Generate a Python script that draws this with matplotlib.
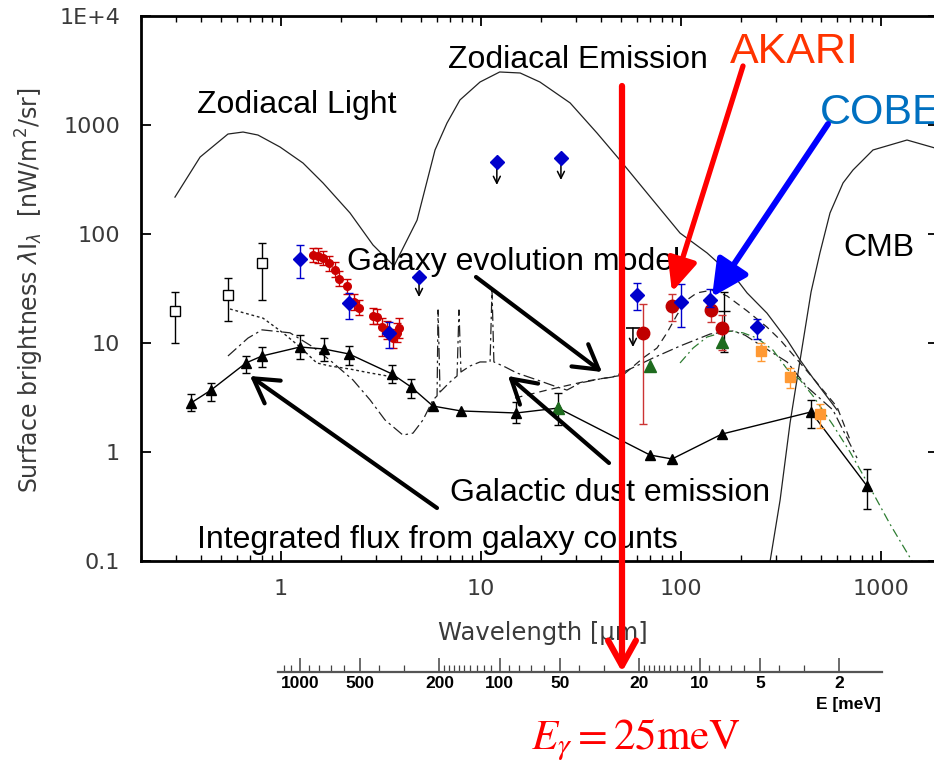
import numpy as np
import matplotlib
matplotlib.use('Agg')
import matplotlib.pyplot as plt
from matplotlib.patches import FancyArrowPatch, ArrowStyle
from matplotlib.ticker import FixedLocator, NullLocator, NullFormatter, FixedFormatter, LogLocator

plt.rcParams['font.family'] = ['Liberation Sans', 'DejaVu Sans']
nan = np.nan

# ---------------- data (wavelength [um], brightness [nW/m2/sr]) ----------------
zl_wl = [0.295, 0.394, 0.543, 0.646, 0.767, 0.989, 1.288, 1.622, 2.213, 2.884, 3.673]
zl_I = [218, 508, 826, 862, 809, 628, 448, 294, 156, 79.3, 50.9]

ze_wl = [3.673, 4.79, 5.89, 6.76, 7.85, 9.89, 12.4, 15.7, 19.7, 27.9, 38.0, 49.5, 67.6,
         98.9, 135, 191, 214, 269, 339, 394, 457, 603]
ze_I = [50.9, 134, 590, 1042, 1698, 2480, 3065, 3000, 2480, 1594, 845, 477, 238,
        102, 67.0, 37.8, 28.8, 18.8, 10.7, 6.98, 4.77, 2.43]

cmb_wl = [272, 279, 313, 351, 394, 447, 495, 556, 646, 724, 912, 1349, 1862]
cmb_I = [0.0744, 0.1, 0.363, 1.85, 6.98, 29.4, 67.0, 156, 294, 386, 590, 728, 615]

pah_wl = [0.543, 0.684, 0.804, 1.109, 1.445, 1.80, 2.29, 2.79, 3.31, 4.07, 4.57, 5.13, 5.75,
          6.03, 6.10, 6.24, 7.0, 7.59, 7.76, 7.94, 8.81, 9.89, 11.1, 11.35, 11.6, 13.2, 15.1,
          19.1, 24.0, 26.9, 31.3, 39.4, 45.7, 55.6, 72.4, 98.9, 140, 182, 209, 240, 288,
          339, 427, 575, 759]
pah_I = [7.60, 11.1, 13.2, 12.4, 9.19, 6.70, 4.58, 3.00, 1.97, 1.43, 1.49, 1.97, 3.00,
         3.27, 20.1, 3.55, 4.39, 4.98, 20.1, 5.42, 6.15, 6.70, 6.70, 30.6, 6.70, 6.03, 5.31,
         4.58, 3.95, 3.70, 4.30, 4.68, 4.88, 5.77, 7.28, 9.38, 12.1, 12.9, 11.8, 10.0, 8.09,
         6.70, 3.95, 2.43, 0.88]

mod2_wl = [14.8, 21.4, 33.9, 51.3, 64.6, 75.9, 85.1, 95.5, 107, 120, 143, 170, 214, 269,
           313, 394, 457, 603, 700]
mod2_I = [3.13, 3.70, 4.48, 5.08, 7.28, 9.0, 12.4, 18.1, 24.8, 28.8, 30.6, 27.0, 19.7, 14.0,
          10.7, 6.56, 4.77, 2.59, 1.29]

dot_wl = [0.556, 0.813, 1.023, 1.245, 1.51, 1.76, 2.21, 2.79, 3.63]
dot_I = [20.5, 16.9, 12.4, 9.19, 6.56, 6.15, 5.77, 5.31, 4.88]

grl_wl = [98.9, 115, 135, 172, 204, 240, 288, 339, 394, 457, 575, 700, 851, 1109, 1429, 1660]
grl_I = [6.56, 9.0, 11.35, 12.9, 12.4, 11.1, 8.63, 5.77, 4.58, 3.27, 1.77, 1.0, 0.531,
         0.218, 0.1, 0.060]

tri_wl = [0.355, 0.447, 0.668, 0.804, 1.245, 1.64, 2.19, 3.59, 4.47, 5.75, 7.94, 15.0, 24.3,
          70.0, 90.2, 160, 447, 851]
tri_I = [2.82, 3.70, 6.56, 7.60, 9.19, 8.81, 7.93, 5.20, 3.95, 2.64, 2.38, 2.28, 2.53,
         0.938, 0.863, 1.46, 2.33, 0.488]
tri_lo = [2.38, 2.94, 5.31, 6.03, 7.13, 6.84, 6.28, 4.30, 3.13, nan, nan, 1.85, 1.77,
          nan, nan, nan, 1.66, 0.30]
tri_hi = [3.40, 4.30, 7.60, 9.19, 11.8, 11.1, 9.38, 6.28, 4.68, nan, nan, 2.88, 3.48,
          nan, nan, nan, 3.0, 0.70]

sq_wl = [0.295, 0.543, 0.804]
sq_I = [19.7, 27.5, 54.1]
sq_lo = [10.0, 15.9, 24.8]
sq_hi = [29.4, 39.5, 82.6]

rn_wl = [1.45, 1.53, 1.62, 1.74, 1.86, 1.95, 2.14, 2.32, 2.45, 2.88, 3.02, 3.20, 3.39, 3.63, 3.80, 3.89]
rn_I = [64, 63, 60, 54, 47, 39, 33, 24, 21, 17.7, 17.3, 14.0, 13.2, 11.1, 12.4, 13.7]
rn_lo = [55, 54, 52, 46, 40, 33, 28, 20, 18, 15, 14.8, 11.5, 10.8, 9.0, 10.2, 11.0]
rn_hi = [75, 74, 70, 63, 55, 46, 39, 28, 25, 21, 20.5, 16.8, 16.0, 13.5, 15.2, 16.8]

bd_wl = [1.245, 2.19, 3.47, 60.3, 100, 140, 240]
bd_I = [59.0, 23.3, 12.4, 27.5, 23.8, 24.8, 14.0]
bd_lo = [39.5, 16.6, 9.0, 20.1, 14.0, 21.4, 10.9]
bd_hi = [79.3, 28.8, 15.6, 35.5, 34.7, 31.3, 16.6]

bu_wl = [4.9, 12.0, 25.1]
bu_I = [40.3, 458, 498]
bu_end = [26.4, 282, 313]

ak_wl = [64.6, 90.2, 141, 160]
ak_I = [12.4, 21.8, 20.1, 13.7]
ak_lo = [1.81, 15.9, 15.6, 8.63]
ak_hi = [22.8, 28.2, 25.3, 18.1]

or_wl = [251, 351, 495]
or_I = [8.45, 4.87, 2.24]
or_lo = [6.84, 3.86, 1.66]
or_hi = [10.0, 5.9, 2.76]

gr_wl = [24.3, 70, 160]
gr_I = [2.53, 6.15, 10.2]

bk_wl = [165]
bk_I = [19.7]
bk_lo = [8.27]
bk_hi = [29.4]

ul_wl = [57.5]
ul_I = [13.7]
ul_end = [9.19]

y_ticks = [0.1, 1, 10, 100, 1000, 1e4]
y_labels = ['0.1', '1', '10', '100', '1000', '1E+4']
x_ticks = [1, 10, 100, 1000]
x_labels = ['1', '10', '100', '1000']
e_major = [1000, 500, 200, 100, 50, 20, 10, 5, 2]
e_labels = ['1000', '500', '200', '100', '50', '20', '10', '5', '2']
e_minor = ([1200, 1100, 900, 800, 700, 600, 400, 300] + list(range(190, 100, -10)) +
           [90, 80, 70, 60, 40, 30] + list(range(19, 10, -1)) + [9, 8, 7, 6, 4, 3])

# ---------------- figure ----------------
W, H = 934, 764
fig = plt.figure(figsize=(W / 100, H / 100), dpi=100)


def fpos(x, y):
    return (x / W, 1 - y / H)


ax = fig.add_axes([141 / W, 1 - 561 / H, (938 - 141) / W, (561 - 16) / H])
ax.set_xscale('log')
ax.set_yscale('log')
ax.set_xlim(10 ** -0.7, 10 ** 3.285)
ax.set_ylim(0.1, 1e4)

lc = '#222222'
ax.plot(zl_wl, zl_I, color=lc, lw=0.9)
ax.plot(ze_wl, ze_I, color=lc, lw=0.9)
ax.plot(cmb_wl, cmb_I, color=lc, lw=0.9)
ax.plot(pah_wl, pah_I, color=lc, lw=0.9, ls=(0, (9, 3, 2, 3)))
ax.plot(mod2_wl, mod2_I, color=lc, lw=0.9, ls=(0, (6, 4)))
ax.plot(dot_wl, dot_I, color=lc, lw=1.0, ls=(0, (2, 2)))
ax.plot(grl_wl, grl_I, color='#2e7d32', lw=0.9, ls=(0, (7, 3, 1.5, 3)))

ax.plot(tri_wl, tri_I, color='black', lw=1.0)
tri_I_a = np.array(tri_I)
ax.errorbar(tri_wl, tri_I, yerr=[tri_I_a - np.array(tri_lo), np.array(tri_hi) - tri_I_a],
            fmt='^', color='black', ms=6.5, capsize=3, elinewidth=1, capthick=1, zorder=4)

sq_I_a = np.array(sq_I)
ax.errorbar(sq_wl, sq_I, yerr=[sq_I_a - np.array(sq_lo), np.array(sq_hi) - sq_I_a],
            fmt='s', color='black', mfc='white', mec='black', ms=7, capsize=3,
            elinewidth=1, capthick=1, zorder=4)

rn_I_a = np.array(rn_I)
ax.errorbar(rn_wl, rn_I, yerr=[rn_I_a - np.array(rn_lo), np.array(rn_hi) - rn_I_a],
            fmt='o', color='#cc0000', ms=5.5, capsize=3, elinewidth=1, capthick=1, zorder=4)

ak_I_a = np.array(ak_I)
ax.errorbar(ak_wl, ak_I, yerr=[ak_I_a - np.array(ak_lo), np.array(ak_hi) - ak_I_a],
            fmt='o', color='#c00000', ecolor='#cc3333', ms=9, capsize=3, elinewidth=1,
            capthick=1, zorder=5)

bd_I_a = np.array(bd_I)
ax.errorbar(bd_wl, bd_I, yerr=[bd_I_a - np.array(bd_lo), np.array(bd_hi) - bd_I_a],
            fmt='D', color='#0000cc', ms=7, capsize=3, elinewidth=1, capthick=1, zorder=6)
ax.plot(bu_wl, bu_I, 'D', color='#0000cc', ms=7, zorder=6)

small_head = ArrowStyle('->', head_length=5, head_width=2.5)
for x0, y0, y1 in zip(bu_wl, bu_I, bu_end):
    ax.annotate('', xy=(x0, y1), xytext=(x0, y0),
                arrowprops=dict(arrowstyle=small_head, mutation_scale=1,
                                color='black', lw=1.1, shrinkA=0, shrinkB=0), zorder=5)

or_I_a = np.array(or_I)
ax.errorbar(or_wl, or_I, yerr=[or_I_a - np.array(or_lo), np.array(or_hi) - or_I_a],
            fmt='s', color='#ff9933', ms=7, capsize=3, elinewidth=1, capthick=1, zorder=5)

ax.plot(gr_wl, gr_I, '^', color='#1e6b1e', ms=8, zorder=6)

bk_I_a = np.array(bk_I)
ax.errorbar(bk_wl, bk_I, yerr=[bk_I_a - np.array(bk_lo), np.array(bk_hi) - bk_I_a],
            fmt='_', color='black', ms=9, capsize=3, elinewidth=1, capthick=1, zorder=4)

ax.plot(ul_wl, ul_I, '_', color='black', ms=10, mew=1.2, zorder=4)
for x0, y0, y1 in zip(ul_wl, ul_I, ul_end):
    ax.annotate('', xy=(x0, y1), xytext=(x0, y0),
                arrowprops=dict(arrowstyle=small_head, mutation_scale=1,
                                color='black', lw=1.1, shrinkA=0, shrinkB=0), zorder=5)

# axes styling
for s in ax.spines.values():
    s.set_linewidth(2)
ax.yaxis.set_major_locator(FixedLocator(y_ticks))
ax.yaxis.set_major_formatter(FixedFormatter(y_labels))
ax.yaxis.set_minor_locator(NullLocator())
ax.xaxis.set_major_locator(FixedLocator(x_ticks))
ax.xaxis.set_major_formatter(FixedFormatter(x_labels))
ax.xaxis.set_minor_locator(LogLocator(base=10, subs=np.arange(2, 10)))
ax.xaxis.set_minor_formatter(NullFormatter())
ax.tick_params(which='both', direction='in', top=True, right=True)
ax.tick_params(which='major', length=7, width=1.3, labelsize=16, labelcolor='#3a3a3a')
ax.tick_params(which='minor', length=4, width=1)
ax.tick_params(axis='x', which='major', pad=13)
ax.tick_params(axis='y', which='major', pad=15)
for lab in ax.get_xticklabels() + ax.get_yticklabels():
    lab.set_fontfamily('DejaVu Sans')

fig.text(*fpos(543, 633), 'Wavelength [µm]', ha='center', va='center', fontsize=17.5,
         color='#3a3a3a', family='DejaVu Sans')
fig.text(*fpos(30, 290), r'Surface brightness $\lambda$I$_\lambda$  [nW/m$^2$/sr]',
         ha='center', va='center', rotation=90, fontsize=17, color='#3a3a3a',
         family='DejaVu Sans')

# ---------------- annotations ----------------
tkw = dict(ha='left', va='center', fontsize=23, color='black')
fig.text(*fpos(197, 105), 'Zodiacal Light', **tkw)
fig.text(*fpos(448, 60), 'Zodiacal Emission', **tkw)
fig.text(*fpos(347, 262), 'Galaxy evolution model', **tkw)
fig.text(*fpos(843, 248), 'CMB', **tkw)
fig.text(*fpos(450, 493), 'Galactic dust emission', **tkw)
fig.text(*fpos(197, 540), 'Integrated flux from galaxy counts', **tkw)
fig.text(*fpos(730, 52), 'AKARI', ha='left', va='center', fontsize=31, color='#ff3300')
fig.text(*fpos(820, 113), 'COBE', ha='left', va='center', fontsize=31, color='#0070c0')


def farrow(p0, p1, color, lw, style, hl, hw, z=10):
    a = FancyArrowPatch(fpos(*p0), fpos(*p1), transform=fig.transFigure,
                        arrowstyle=ArrowStyle(style, head_length=hl, head_width=hw),
                        color=color, lw=lw, mutation_scale=1, shrinkA=0, shrinkB=0,
                        zorder=z)
    fig.add_artist(a)


farrow((437, 508), (250, 376), 'black', 3.0, '->', 17, 10)
farrow((609, 463), (508, 376), 'black', 3.0, '->', 17, 10)
farrow((476, 277), (602, 372), 'black', 3.0, '->', 17, 10)
farrow((743, 66), (672, 292), '#ff0000', 3.8, '-|>', 20, 9)
farrow((828, 124), (712, 297), '#0000ff', 4.3, '-|>', 22, 11)
farrow((622, 86), (622, 672), '#ff0000', 4.5, '->', 18, 10, z=12)

# ---------------- energy axis ----------------
ax2 = fig.add_axes([278 / W, 1 - 672 / H, (882 - 278) / W, 0.0005])
ax2.set_xscale('log')
ax2.set_xlim(1284, 1.225)
ax2.set_yticks([])
for k in ['top', 'left', 'right']:
    ax2.spines[k].set_visible(False)
ax2.spines['bottom'].set_linewidth(1.6)
ax2.spines['bottom'].set_color('#555555')
ax2.xaxis.set_major_locator(FixedLocator(e_major))
ax2.xaxis.set_major_formatter(FixedFormatter(e_labels))
ax2.xaxis.set_minor_locator(FixedLocator(e_minor))
ax2.xaxis.set_minor_formatter(NullFormatter())
ax2.tick_params(which='both', direction='in', color='#444444')
ax2.tick_params(which='major', length=10, width=1.1, pad=3, labelsize=12.5)
ax2.tick_params(which='minor', length=5, width=0.9)
for lab in ax2.get_xticklabels():
    lab.set_fontweight('bold')
fig.text(*fpos(881, 705), 'E [meV]', ha='right', va='center', fontsize=12.5,
         fontweight='bold')
fig.text(*fpos(636, 740), r'$E_\gamma = 25\mathrm{meV}$', ha='center', va='center',
         fontsize=31, color='#ff0000', math_fontfamily='stix')

fig.savefig('out.png', dpi=100)
